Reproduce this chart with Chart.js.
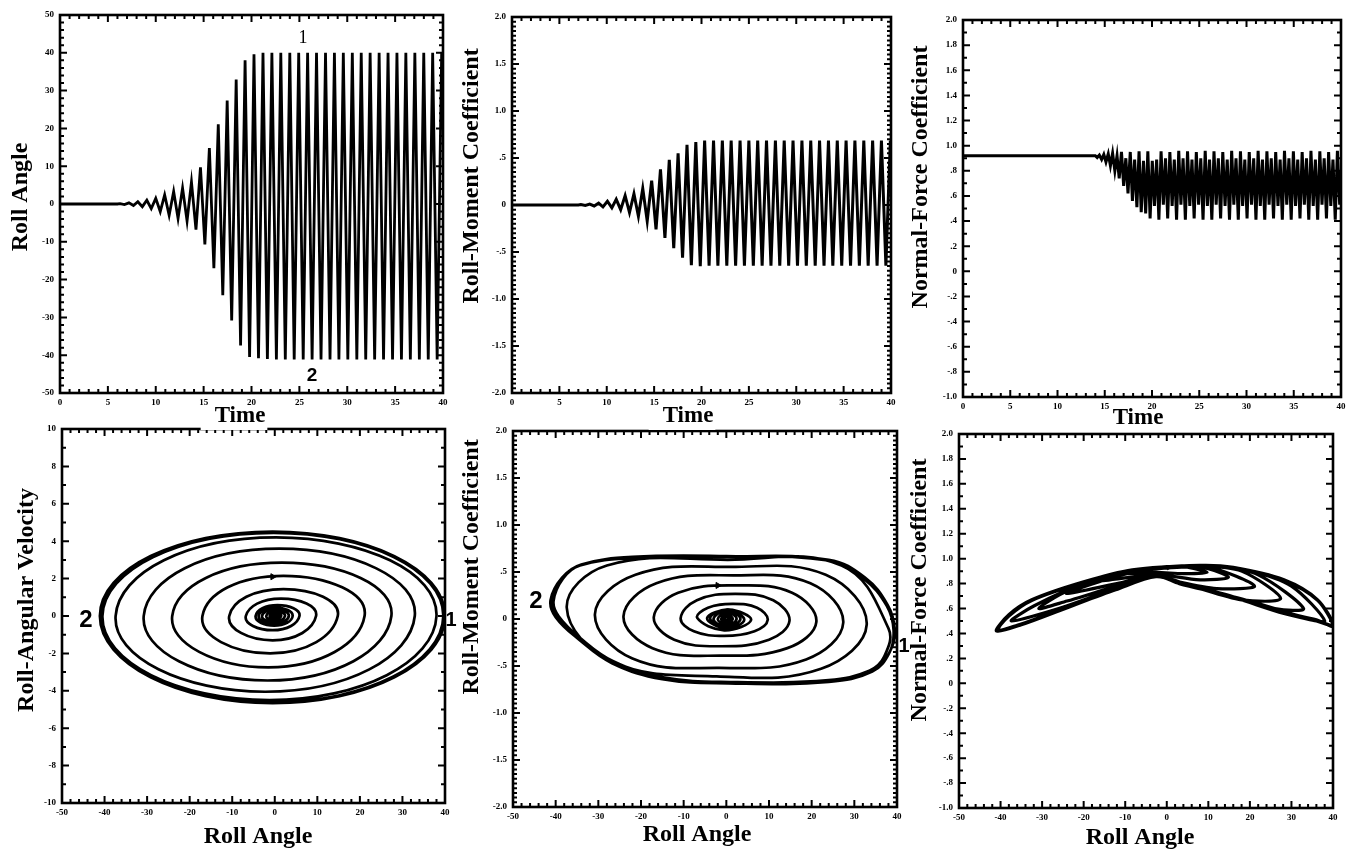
<!DOCTYPE html>
<html><head><meta charset="utf-8">
<script src="https://cdn.jsdelivr.net/npm/chart.js@4.4.1/dist/chart.umd.min.js"></script>
<style>
html,body{margin:0;padding:0;background:#fff;}
#wrap{position:relative;width:1350px;height:855px;overflow:hidden;background:#fff;}
#wrap canvas{position:absolute;left:0;top:0;}
</style></head><body><div id="wrap"></div>
<script>
// ---------- tick labels ----------
const timeTicks  = ['0','5','10','15','20','25','30','35','40'];
const rollTicks  = ['-50','-40','-30','-20','-10','0','10','20','30','40','50'];
const cmTicks    = ['-2.0','-1.5','-1.0','-.5','0','.5','1.0','1.5','2.0'];
const cnTicks    = ['-1.0','-.8','-.6','-.4','-.2','0','.2','.4','.6','.8','1.0','1.2','1.4','1.6','1.8','2.0'];
const angleTicks = ['-50','-40','-30','-20','-10','0','10','20','30','40'];
const velTicks   = ['-10','-8','-6','-4','-2','0','2','4','6','8','10'];

// ---------- roll angle vs time (extrema) ----------
const rollTime = [0, 6.0,
 6.27, 6.73, 7.20, 7.67, 8.13, 8.60, 9.07, 9.53, 10.00, 10.47, 10.93, 11.40, 11.87, 12.33,
 12.80, 13.27, 13.73, 14.20, 14.67, 15.13, 15.60, 16.07, 16.53, 17.00, 17.46, 17.93, 18.40, 18.86,
 19.33, 19.80, 20.26, 20.73, 21.20, 21.66,
 22.13, 22.60, 23.06, 23.53, 24.00, 24.46, 24.93, 25.40, 25.86, 26.33, 26.79, 27.26, 27.73, 28.20,
 28.66, 29.13, 29.59, 30.06, 30.53, 31.00, 31.46, 31.93, 32.39, 32.86, 33.33, 33.79, 34.26, 34.73,
 35.19, 35.66, 36.12, 36.59, 37.06, 37.53, 37.99, 38.46, 38.92, 39.39,
 39.86, 40.0];
const rollAngle = [0, 0,
 0.1, -0.15, 0.3, -0.4, 0.6, -0.7, 1.0, -1.2, 1.5, -2.0, 2.4, -3.0, 3.3, -3.8,
 4.2, -4.5, 5.8, -6.8, 9.7, -10.7, 14.8, -17.0, 21.1, -24.1, 27.4, -30.8, 32.9, -37.4,
 38.0, -40.5, 39.6, -40.8, 40.0, -41.0,
 40.0, -41.1, 40.0, -41.1, 40.0, -41.1, 40.0, -41.1, 40.0, -41.1, 40.0, -41.1, 40.0, -41.1,
 40.0, -41.1, 40.0, -41.1, 40.0, -41.1, 40.0, -41.1, 40.0, -41.1, 40.0, -41.1, 40.0, -41.1,
 40.0, -41.1, 40.0, -41.1, 40.0, -41.1, 40.0, -41.1, 40.0, -41.1,
 40.0, 20.0];

// ---------- roll-moment coefficient vs time ----------
const cmTime = [0, 7.0,
 7.27, 7.74, 8.20, 8.67, 9.14, 9.60, 10.07, 10.54, 11.00, 11.47, 11.94, 12.40, 12.87, 13.34,
 13.80, 14.27, 14.74, 15.20, 15.67, 16.14, 16.60, 17.07, 17.53, 18.00, 18.47, 18.93, 19.40, 19.87,
 20.33, 20.80, 21.27, 21.73, 22.20, 22.67, 23.13, 23.60, 24.07, 24.53, 25.00, 25.47, 25.93, 26.40,
 26.86, 27.33, 27.80, 28.26, 28.73, 29.20, 29.66, 30.13, 30.60, 31.06, 31.53, 32.00, 32.46, 32.93,
 33.40, 33.86, 34.33, 34.80, 35.26, 35.73, 36.19, 36.66, 37.13, 37.59, 38.06, 38.53, 38.99, 39.46,
 39.93, 40.0];
const cmValue = [0, 0,
 0.005, -0.005, 0.01, -0.01, 0.02, -0.02, 0.04, -0.03, 0.06, -0.05, 0.10, -0.08, 0.12, -0.12,
 0.175, -0.17, 0.26, -0.26, 0.38, -0.35, 0.48, -0.46, 0.55, -0.56, 0.64, -0.64, 0.67, -0.65,
 0.686, -0.645, 0.686, -0.645, 0.686, -0.645, 0.686, -0.645, 0.686, -0.645, 0.686, -0.645, 0.686, -0.645,
 0.686, -0.645, 0.686, -0.645, 0.686, -0.645, 0.686, -0.645, 0.686, -0.645, 0.686, -0.645, 0.686, -0.645,
 0.686, -0.645, 0.686, -0.645, 0.686, -0.645, 0.686, -0.645, 0.686, -0.645, 0.686, -0.645, 0.686, -0.645,
 0.686, 0.62];

// ---------- normal-force coefficient vs time ----------
const cnTime = [0, 14.0,
 14.20, 14.43, 14.67, 14.90, 15.13, 15.37, 15.60, 15.83, 16.07, 16.30, 16.53, 16.77, 17.00,
 17.23, 17.46, 17.70, 17.93, 18.16, 18.40, 18.63, 18.86, 19.10, 19.33, 19.56, 19.80, 20.03,
 20.26, 20.49, 20.73, 20.96, 21.20, 21.43, 21.66, 21.89, 22.13, 22.36, 22.60, 22.83,
 23.06, 23.29, 23.53, 23.76, 24.00, 24.23, 24.46, 24.69, 24.93, 25.16, 25.40, 25.63,
 25.86, 26.09, 26.33, 26.56, 26.79, 27.02, 27.26, 27.49, 27.73, 27.96, 28.20, 28.43,
 28.66, 28.89, 29.13, 29.36, 29.59, 29.82, 30.06, 30.29, 30.53, 30.76, 31.00, 31.23,
 31.46, 31.69, 31.93, 32.16, 32.39, 32.62, 32.86, 33.09, 33.33, 33.56, 33.79, 34.02,
 34.26, 34.49, 34.73, 34.96, 35.19, 35.42, 35.66, 35.89, 36.12, 36.35, 36.59, 36.82,
 37.06, 37.29, 37.53, 37.76, 37.99, 38.22, 38.46, 38.69, 38.92, 39.15, 39.39, 39.62,
 39.86, 40.0];
const cnValue = [0.92, 0.92,
 0.905, 0.925, 0.89, 0.93, 0.87, 0.935, 0.84, 0.94, 0.80, 0.92, 0.74, 0.95, 0.68,
 0.90, 0.62, 0.95, 0.56, 0.89, 0.51, 0.955, 0.47, 0.88, 0.46, 0.955, 0.42, 0.88,
 0.52, 0.89, 0.41, 0.955, 0.53, 0.90, 0.42, 0.95, 0.52, 0.89, 0.41, 0.96,
 0.53, 0.90, 0.41, 0.955, 0.52, 0.89, 0.42, 0.95, 0.53, 0.90, 0.41, 0.96,
 0.52, 0.89, 0.41, 0.955, 0.53, 0.90, 0.42, 0.95, 0.52, 0.89, 0.41, 0.96,
 0.53, 0.90, 0.41, 0.955, 0.52, 0.89, 0.42, 0.95, 0.53, 0.90, 0.41, 0.96,
 0.52, 0.89, 0.41, 0.955, 0.53, 0.90, 0.42, 0.95, 0.52, 0.89, 0.41, 0.96,
 0.53, 0.90, 0.41, 0.955, 0.52, 0.89, 0.42, 0.95, 0.53, 0.90, 0.41, 0.96,
 0.52, 0.89, 0.41, 0.955, 0.53, 0.90, 0.42, 0.95, 0.52, 0.89, 0.41, 0.96,
 0.53, 0.80];

// ---------- phase portrait: [roll angle, roll-angular velocity] ----------
const velLoop = [
 [0.1,0],[-0.02,-0.014],[-0.15,0],[0.07,0.025],[0.3,0],[-0.05,-0.04],[-0.4,0],[0.1,0.056],
 [0.6,0],[-0.05,-0.075],[-0.7,0],[0.15,0.1],[1.0,0],[-0.1,-0.13],[-1.2,0],[0.15,0.16],
 [1.5,0],[-0.25,-0.21],[-2.0,0],[0.2,0.25],[2.4,0],[-0.3,-0.32],[-3.0,0],[0.15,0.36],
 [3.3,0],[-0.25,-0.42],[-3.8,0],[0.2,0.45],[4.2,0],[-0.15,-0.52],[-4.5,0],[0.65,0.58],
 [5.8,0],[-0.5,-0.76],[-6.8,0],[1.45,0.93],[9.7,0],[-0.5,-1.3],[-10.7,0],[2.05,1.44],
 [14.8,0],[-1.1,-2.0],[-17.0,0],[2.05,2.15],[21.1,0],[-1.5,-2.75],[-24.1,0],[1.65,2.85],
 [27.4,0],[-1.7,-3.45],[-30.8,0],[1.05,3.6],[32.9,0],[-2.25,-4.05],[-37.4,0],[0.3,4.2],
 [38.0,0],[-1.25,-4.5],[-40.5,0],[-0.25,4.45],[39.6,0],[-0.6,-4.62],[-40.8,0],[-0.4,4.5],
 [40.0,0],[-0.5,-4.65],[-41.0,0],[-0.5,4.5],[40.0,0],[-0.5,-4.66],[-41.1,0],[-0.5,4.52],[40.0,0],
 [-0.5,-4.66]
];
const velMarker = [[-0.5, 2.1]];

// ---------- phase portrait: [roll angle, roll-moment coefficient] ----------
const cmLoop = [
 [0.1,0],[0,-0.01],[-0.15,0],[0,0.01],[0.3,0],[0,-0.02],[-0.4,0],[0.1,0.02],
 [0.6,0],[0,-0.03],[-0.7,0],[0.15,0.03],[1.0,0],[-0.1,-0.04],[-1.2,0],[0.15,0.05],
 [1.5,0],[-0.25,-0.06],[-2.0,0],[0.2,0.07],[2.4,0],[-0.3,-0.08],[-3.0,0],[0.15,0.09],
 [3.3,0],[-0.25,-0.09],[-3.8,0.01],[0.2,0.1],[4.2,-0.01],[-0.15,-0.1],[-4.5,0.01],[0.65,0.1],
 [5.8,-0.01],[-0.5,-0.12],[-6.8,0.01],
 [-4.3,0.12],[1.45,0.16],[7.2,0.12],[9.7,-0.01],
 [6.6,-0.13],[-0.5,-0.18],[-7.6,-0.13],[-10.7,0.01],
 [-6.9,0.2],[2.05,0.268],[11.0,0.2],[14.8,-0.02],
 [10.0,-0.22],[-1.1,-0.29],[-12.2,-0.22],[-17.0,0.02],
 [-11.3,0.28],[2.05,0.357],[15.4,0.28],[21.1,-0.03],
 [14.3,-0.31],[-1.5,-0.39],[-17.3,-0.31],[-24.1,0.03],
 [-16.4,0.38],[1.65,0.464],[19.7,0.38],[27.4,-0.04],
 [18.7,-0.43],[-1.7,-0.52],[-22.0,-0.42],[-30.8,0.05],
 [-21.3,0.47],[1.05,0.554],[23.3,0.47],[32.9,-0.06],
 [22.2,-0.53],[-2.25,-0.61],[-26.9,-0.45],[-37.4,0.12],
 [-28.0,0.57],[0.3,0.63],[27.0,0.57],[38.0,-0.1],
 [37.0,-0.4],[33.5,-0.55],[24.0,-0.65],[0.9,-0.67],[-14.8,-0.62],[-26.5,-0.45],[-34.3,-0.2],[-39.3,0.03],[-40.5,0.19],
 [-38.3,0.43],[-34.3,0.57],[-22.0,0.65],[0,0.66],[24.3,0.62],[32.2,0.43],[37.6,0.14],[39.5,-0.12],
 [38.4,-0.34],[34.5,-0.55],[24.3,-0.66],[0.9,-0.68],[-14.8,-0.63],[-26.5,-0.46],[-34.3,-0.21],[-39.8,0.03],[-41.0,0.2],
 [-38.3,0.43],[-34.3,0.57],[-22.0,0.655],[0,0.665],[24.3,0.62],[32.2,0.43],[37.6,0.14],[39.2,-0.12],
 [38.2,-0.36],[34.2,-0.56],[24.0,-0.67],[0.5,-0.685],[-15.0,-0.64],[-26.8,-0.47],[-34.5,-0.22],[-40.0,0.02],[-41.2,0.2],
 [-38.5,0.44],[-34.0,0.58],[-22.0,0.66],[0,0.668],[24.0,0.63],[32.5,0.44],[37.8,0.15],[39.4,-0.1],
 [38.3,-0.35]
];
const cmMarker = [[-2.0, 0.357]];

// ---------- phase portrait: [roll angle, normal-force coefficient] ----------
const cnLoop = [
 [0,0.92],[0.5,0.925],[-2,0.92],
 [-6.8,0.90],[-2,0.925],[4,0.935],[9.7,0.89],[4,0.88],[-2.6,0.89],[-10.7,0.88],
 [-4,0.925],[5,0.94],[10,0.92],[14.8,0.85],[8,0.83],[-2.6,0.875],[-9,0.85],[-17,0.82],
 [-9,0.89],[2,0.935],[10,0.935],[21.1,0.78],[12,0.76],[2,0.82],[-2.6,0.865],[-12,0.8],[-24.1,0.72],
 [-14,0.84],[-4,0.915],[8,0.94],[18,0.9],[27.4,0.68],[18,0.67],[6,0.78],[-2.6,0.86],[-14,0.76],[-24,0.66],[-30.8,0.6],
 [-24,0.74],[-12,0.87],[0,0.925],[12,0.935],[22,0.87],[32.9,0.6],[26,0.6],[14,0.71],[3,0.8],[-2.6,0.86],[-14,0.74],[-26,0.6],[-37.4,0.5],
 [-32,0.62],[-20,0.8],[-8,0.905],[8,0.945],[20,0.9],[30,0.78],[38,0.5],
 [32,0.54],[20,0.66],[5,0.79],[-2.6,0.855],[-13,0.745],[-26,0.58],[-36,0.465],[-40.5,0.43],
 [-38,0.55],[-32.5,0.67],[-20.4,0.81],[-8.3,0.91],[8,0.946],[16,0.93],[28.2,0.83],[36.3,0.67],[40,0.47],
 [36,0.5],[28.2,0.56],[16,0.69],[3.9,0.8],[-2.6,0.855],[-12.3,0.75],[-24.5,0.6],[-35,0.47],[-40.8,0.42],
 [-38,0.54],[-32.5,0.665],[-20.4,0.805],[-8.3,0.905],[8,0.94],[16,0.925],[28.2,0.825],[36.3,0.665],[40,0.46],
 [36,0.51],[28.2,0.57],[16,0.695],[3.9,0.805],[-2.6,0.86],[-12.3,0.755],[-24.5,0.605],[-35,0.475],[-41,0.42],
 [-38,0.55],[-32.5,0.67],[-20.4,0.81],[-8.3,0.91],[8,0.946],[16,0.93],[28.2,0.83],[36.3,0.67],[40,0.47],
 [36,0.5]
];

// ---------- plugins (frame, inward ticks, text) ----------
const framePlugin = {
  id: 'frameTicks',
  afterDatasetsDraw(chart, args, opts) {
    const {ctx, chartArea: a, scales} = chart;
    ctx.save();
    ctx.strokeStyle = '#000';
    ctx.lineWidth = 2;
    const drawAxis = (scale, sub, horiz) => {
      const t = scale.ticks.map(k => k.value);
      const step = t[1] - t[0];
      for (let i = 0; i < t.length; i++) {
        for (let j = 0; j < sub; j++) {
          if (i === t.length - 1 && j > 0) break;
          const p = scale.getPixelForValue(t[i] + step * j / sub);
          const len = j === 0 ? 7 : 4;
          ctx.beginPath();
          if (horiz) {
            ctx.moveTo(p, a.bottom); ctx.lineTo(p, a.bottom - len);
            ctx.moveTo(p, a.top); ctx.lineTo(p, a.top + len);
          } else {
            ctx.moveTo(a.left, p); ctx.lineTo(a.left + len, p);
            ctx.moveTo(a.right, p); ctx.lineTo(a.right - len, p);
          }
          ctx.stroke();
        }
      }
    };
    drawAxis(scales.x, opts.xSub, true);
    drawAxis(scales.y, opts.ySub, false);
    ctx.lineWidth = 2.6;
    ctx.strokeRect(a.left, a.top, a.right - a.left, a.bottom - a.top);
    ctx.restore();
  }
};
const textPlugin = {
  id: 'panelText',
  afterDraw(chart, args, opts) {
    const ctx = chart.ctx;
    (opts.items || []).forEach(it => {
      ctx.save();
      ctx.font = it.font;
      ctx.textAlign = 'center';
      ctx.textBaseline = 'middle';
      ctx.translate(it.x, it.y);
      if (it.rot) ctx.rotate(it.rot);
      if (it.bg) {
        const w = ctx.measureText(it.text).width;
        ctx.fillStyle = '#fff';
        ctx.fillRect(-w / 2 - it.bg[0], it.bg[1], w + it.bg[0] + it.bg[2], it.bg[3]);
      }
      ctx.fillStyle = '#000';
      ctx.fillText(it.text, 0, 0);
      ctx.restore();
    });
  }
};

const SERIF = '"Liberation Serif", "Times New Roman", serif';
const SANS = '"Liberation Sans", Arial, sans-serif';
const TITLE = 'bold 24px ' + SERIF;
const TIME = 'bold 23px ' + SERIF;
const ROT = -Math.PI / 2;
const wrap = document.getElementById('wrap');
const toXY = (xs, ys) => xs.map((x, i) => ({x: x, y: ys[i]}));
const pairs = (arr) => arr.map(p => ({x: p[0], y: p[1]}));
// hideLast: the final point only steers the curve's end tangent; its own segment is not shown
const line = (data, w, tension, hideLast) => {
  const ds = {data, showLine: true, borderColor: '#000', backgroundColor: '#000',
    borderWidth: w, pointRadius: 0, pointHoverRadius: 0, tension: tension || 0, fill: false};
  if (hideLast) ds.segment = {borderColor: c => c.p1DataIndex === data.length - 1 ? 'rgba(0,0,0,0)' : '#000'};
  return ds;
};
const marker = (data) => ({data, showLine: false, pointStyle: 'triangle', rotation: 90, pointRadius: 3.5,
  backgroundColor: '#000', borderColor: '#000', borderWidth: 1});

function panel(o) {
  const cv = document.createElement('canvas');
  cv.width = 1350; cv.height = 855;
  cv.style.width = '1350px'; cv.style.height = '855px';
  wrap.appendChild(cv);
  const tickFont = {family: SERIF, size: 9, weight: 'bold'};
  return new Chart(cv.getContext('2d'), {
    type: 'scatter',
    data: {datasets: o.datasets},
    options: {
      responsive: false, animation: false, events: [],
      layout: {padding: {left: o.area.l - 40, right: 1350 - o.area.r, top: o.area.t, bottom: 855 - o.area.b - 20}},
      plugins: {legend: {display: false}, tooltip: {enabled: false},
        frameTicks: {xSub: o.xSub, ySub: o.ySub}, panelText: {items: o.texts}},
      scales: {
        x: {type: 'linear', position: 'bottom', min: o.x.min, max: o.x.max,
          grid: {display: false, drawTicks: false}, border: {display: false},
          ticks: {stepSize: o.x.step, autoSkip: false, maxRotation: 0, minRotation: 0, padding: 4,
            color: '#000', font: tickFont, callback: (v, i) => o.x.labels[i]},
          afterFit: (s) => { s.height = 20; }},
        y: {type: 'linear', position: 'left', min: o.y.min, max: o.y.max,
          grid: {display: false, drawTicks: false}, border: {display: false},
          ticks: {stepSize: o.y.step, autoSkip: false, padding: 6,
            color: '#000', font: tickFont, callback: (v, i) => o.y.labels[i]},
          afterFit: (s) => { s.width = 40; }}
      }
    },
    plugins: [framePlugin, textPlugin]
  });
}

const angleAxis = {min: -50, max: 40, step: 10, labels: angleTicks};
const timeAxis = {min: 0, max: 40, step: 5, labels: timeTicks};

// bottom row first (top row canvases stack above it)
panel({area: {l: 62, t: 429, r: 445, b: 803}, x: angleAxis,
  y: {min: -10, max: 10, step: 2, labels: velTicks}, xSub: 5, ySub: 2,
  datasets: [line(pairs(velLoop), 2.7, 0.55, true), marker(pairs(velMarker))],
  texts: [
    {text: 'Roll-Angular Velocity', x: 27, y: 600, rot: ROT, font: TITLE},
    {text: 'Roll Angle', x: 258, y: 837, font: TITLE},
    {text: '2', x: 86, y: 620, font: 'bold 24px ' + SANS},
    {text: '1', x: 451, y: 620, font: 'bold 20px ' + SANS}
  ]});
panel({area: {l: 513, t: 431, r: 897, b: 807}, x: angleAxis,
  y: {min: -2, max: 2, step: 0.5, labels: cmTicks}, xSub: 5, ySub: 10,
  datasets: [line(pairs(cmLoop), 2.7, 0.4, true), marker(pairs(cmMarker))],
  texts: [
    {text: 'Roll-Moment Coefficient', x: 472, y: 567, rot: ROT, font: TITLE},
    {text: 'Roll Angle', x: 697, y: 835, font: TITLE},
    {text: '2', x: 536, y: 601, font: 'bold 24px ' + SANS},
    {text: '1', x: 904, y: 646, font: 'bold 20px ' + SANS}
  ]});
panel({area: {l: 959, t: 434, r: 1333, b: 808}, x: angleAxis,
  y: {min: -1, max: 2, step: 0.2, labels: cnTicks}, xSub: 5, ySub: 2,
  datasets: [line(pairs(cnLoop), 3.2, 0.3, true)],
  texts: [
    {text: 'Normal-Force Coefficient', x: 920, y: 590, rot: ROT, font: TITLE},
    {text: 'Roll Angle', x: 1140, y: 838, font: TITLE}
  ]});

// top row
panel({area: {l: 60, t: 15, r: 443, b: 393}, x: timeAxis,
  y: {min: -50, max: 50, step: 10, labels: rollTicks}, xSub: 5, ySub: 5,
  datasets: [line(toXY(rollTime, rollAngle), 2.8)],
  texts: [
    {text: 'Roll Angle', x: 21, y: 197, rot: ROT, font: TITLE},
    {text: 'Time', x: 240, y: 416, font: TIME, bg: [14, -8, 2, 22]},
    {text: '1', x: 303, y: 38, font: '18px ' + SERIF},
    {text: '2', x: 312, y: 376, font: 'bold 19px ' + SANS}
  ]});
panel({area: {l: 512, t: 17, r: 891, b: 393}, x: timeAxis,
  y: {min: -2, max: 2, step: 0.5, labels: cmTicks}, xSub: 5, ySub: 10,
  datasets: [line(toXY(cmTime, cmValue), 3.0)],
  texts: [
    {text: 'Roll-Moment Coefficient', x: 472, y: 176, rot: ROT, font: TITLE},
    {text: 'Time', x: 688, y: 416, font: TIME, bg: [14, -8, 2, 22]}
  ]});
panel({area: {l: 963, t: 20, r: 1341, b: 397}, x: timeAxis,
  y: {min: -1, max: 2, step: 0.2, labels: cnTicks}, xSub: 5, ySub: 2,
  datasets: [line(toXY(cnTime, cnValue), 3.0)],
  texts: [
    {text: 'Normal-Force Coefficient', x: 921, y: 177, rot: ROT, font: TITLE},
    {text: 'Time', x: 1138, y: 418, font: TIME, bg: [14, -8, 2, 22]}
  ]});
</script></body></html>
